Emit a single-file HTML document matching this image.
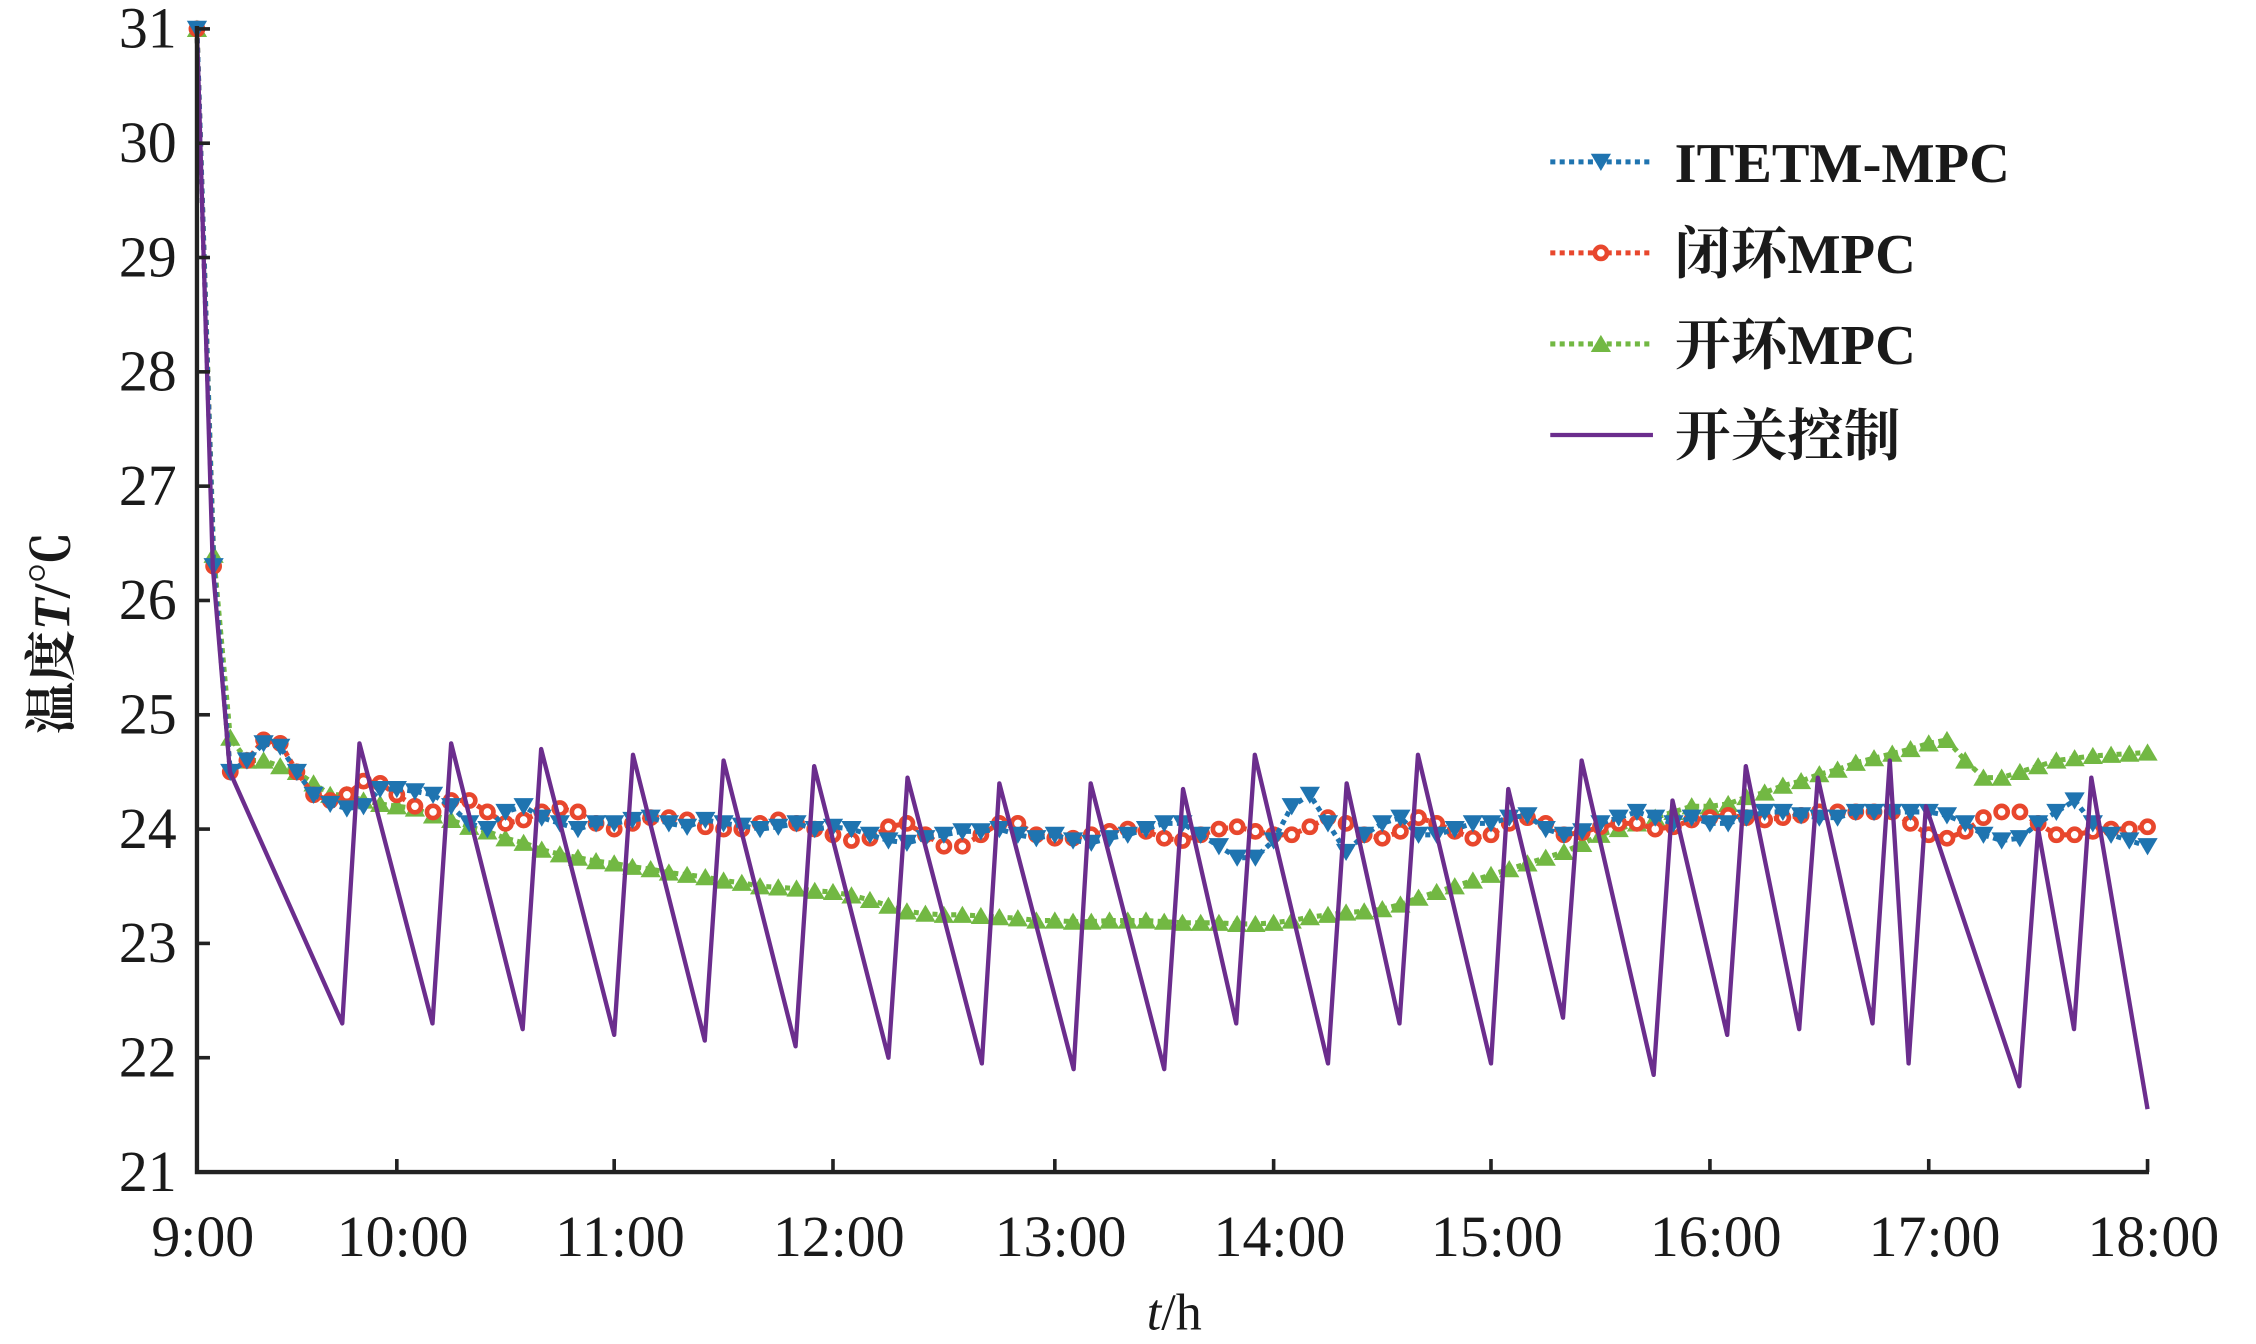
<!DOCTYPE html>
<html><head><meta charset="utf-8"><style>
html,body{margin:0;padding:0;background:#fff;}
svg{display:block;}
text{font-family:"Liberation Serif","Noto Serif CJK SC",serif;fill:#1a1a1a;}
</style></head><body>
<svg id="chart" width="2256" height="1344" viewBox="0 0 1560 930" preserveAspectRatio="none" xmlns="http://www.w3.org/2000/svg">
<g id="plot"></g>
<g id="axes"></g>
<text x="812" y="920" font-size="36" text-anchor="middle"><tspan font-style="italic">t</tspan>/h</text>
<text transform="translate(48,438) rotate(-90)" font-size="36" font-weight="bold" text-anchor="middle">温度<tspan font-style="italic">T</tspan>/℃</text>
<g id="legend"></g>
</svg>
<script>
const categories = Array.from({length:109},(_,i)=>9+i/12);
const xTicks = ["9:00","10:00","11:00","12:00","13:00","14:00","15:00","16:00","17:00","18:00"];
const yTicks = [21,22,23,24,25,26,27,28,29,30,31];
const itetm = [31,26.3,24.5,24.6,24.75,24.72,24.5,24.3,24.22,24.18,24.2,24.35,
24.35,24.33,24.3,24.2,24.05,24.0,24.15,24.2,24.1,24.05,24.0,24.05,
24.05,24.08,24.1,24.05,24.02,24.08,24.05,24.03,24.0,24.02,24.05,24.0,
24.02,24.0,23.95,23.9,23.88,23.92,23.95,23.98,23.98,24.0,23.95,23.92,
23.95,23.9,23.88,23.92,23.95,24.0,24.05,24.05,23.95,23.85,23.75,23.75,
23.9,24.2,24.3,24.05,23.8,23.95,24.05,24.1,23.95,23.95,24.0,24.05,
24.05,24.1,24.12,24.0,23.95,23.98,24.05,24.1,24.15,24.1,24.05,24.1,
24.05,24.05,24.1,24.15,24.15,24.12,24.1,24.1,24.15,24.15,24.15,24.15,
24.15,24.12,24.05,23.95,23.9,23.92,24.05,24.15,24.25,24.05,23.95,23.9,23.85];
const closedLoop = [31,26.3,24.5,24.6,24.78,24.75,24.5,24.3,24.25,24.3,24.42,24.4,
24.3,24.2,24.15,24.25,24.25,24.15,24.05,24.08,24.15,24.18,24.15,24.05,
24.0,24.05,24.1,24.1,24.08,24.02,24.0,24.0,24.05,24.08,24.05,24.0,
23.95,23.9,23.92,24.02,24.05,23.95,23.85,23.85,23.95,24.05,24.05,23.95,
23.92,23.92,23.95,23.98,24.0,23.98,23.92,23.9,23.95,24.0,24.02,23.98,
23.95,23.95,24.02,24.1,24.05,23.95,23.92,23.98,24.1,24.05,23.98,23.92,
23.95,24.05,24.1,24.05,23.95,23.97,24.02,24.05,24.05,24.0,24.02,24.08,
24.1,24.12,24.1,24.08,24.1,24.12,24.15,24.15,24.15,24.15,24.15,24.05,
23.95,23.92,23.98,24.1,24.15,24.15,24.05,23.95,23.95,23.98,24.0,24.0,24.02];
const openLoop = [31,26.4,24.8,24.6,24.6,24.55,24.5,24.4,24.3,24.3,24.25,24.22,
24.2,24.18,24.12,24.08,24.02,23.98,23.92,23.88,23.82,23.78,23.75,23.72,
23.7,23.67,23.65,23.62,23.6,23.58,23.55,23.53,23.5,23.49,23.48,23.46,
23.45,23.42,23.38,23.33,23.28,23.26,23.25,23.25,23.24,23.23,23.22,23.2,
23.2,23.19,23.19,23.2,23.2,23.2,23.19,23.18,23.18,23.18,23.17,23.17,
23.18,23.2,23.23,23.25,23.27,23.28,23.3,23.34,23.4,23.45,23.5,23.55,
23.6,23.65,23.7,23.75,23.8,23.87,23.95,24.0,24.05,24.1,24.15,24.2,
24.2,24.22,24.28,24.32,24.38,24.42,24.48,24.52,24.58,24.62,24.66,24.7,
24.75,24.78,24.6,24.45,24.45,24.5,24.55,24.6,24.62,24.64,24.65,24.66,24.67];
const switchTimes = [9,9.079,9.165,9.727,9.813,10.164,10.25,10.579,10.664,11.0,11.086,11.414,11.5,11.829,11.914,12.25,12.336,12.671,12.75,13.086,13.164,13.5,13.586,13.829,13.914,14.25,14.336,14.579,14.664,15.0,15.079,15.329,15.414,15.743,15.829,16.079,16.164,16.408,16.493,16.743,16.822,16.908,16.987,17.414,17.5,17.664,17.743,18];
const switchTemps = [31,26.3,24.5,22.3,24.75,22.3,24.75,22.25,24.7,22.2,24.65,22.15,24.6,22.1,24.55,22.0,24.45,21.95,24.4,21.9,24.4,21.9,24.35,22.3,24.65,21.95,24.4,22.3,24.65,21.95,24.35,22.35,24.6,21.85,24.25,22.2,24.55,22.25,24.45,22.3,24.6,21.95,24.2,21.75,24.0,22.25,24.45,21.55];

const Y0=811,Y1=20;
const axisPx=[136.2,274.4,424.7,576,729.4,880.7,1031,1182.4,1333.7,1485];
function xs(h){let i=Math.min(Math.max(Math.floor(h-9),0),8);return axisPx[i]+(h-9-i)*(axisPx[i+1]-axisPx[i]);}
const ys=v=>Y0-(v-21)/10*(Y0-Y1);
const X0=axisPx[0],X1=axisPx[9];
const NS="http://www.w3.org/2000/svg";
function mk(tag,attrs,parent){const e=document.createElementNS(NS,tag);for(const k in attrs)e.setAttribute(k,attrs[k]);parent.appendChild(e);return e;}
const plot=document.getElementById('plot'),axes=document.getElementById('axes'),legend=document.getElementById('legend');

function tri(x,y,down,col,p){const s=7;const pts=down?`${x-s},${y-s*0.8} ${x+s},${y-s*0.8} ${x},${y+s*0.9}`:`${x-s},${y+s*0.8} ${x+s},${y+s*0.8} ${x},${y-s*0.9}`;return mk('polygon',{points:pts,fill:col},p);}

function series(vals,col,kind,name){
  const g=mk('g',{},plot);
  
  
  const d=vals.map((v,i)=>(i?'L':'M')+xs(categories[i]).toFixed(2)+','+ys(v).toFixed(2)).join(' ');
  const l=mk('path',{d:d,fill:'none',stroke:col,'stroke-width':3.5,'stroke-dasharray':'3.5,3'},g);
  
  
  vals.forEach((v,i)=>{
    const x=xs(categories[i]),y=ys(v);let m;
    if(kind==='circle'){m=mk('circle',{cx:x,cy:y,r:4.2,fill:'#fff',stroke:col,'stroke-width':3.2},g);}
    else m=tri(x,y,kind==='down',col,g);
    
    
  });
}
series(openLoop,'#72b843','up','open-loop-mpc-series');
series(closedLoop,'#e8472d','circle','closed-loop-mpc-series');
series(itetm,'#1f74b0','down','itetm-mpc-series');
const sw=mk('path',{d:switchTimes.map((t,i)=>(i?'L':'M')+xs(t).toFixed(2)+','+ys(switchTemps[i]).toFixed(2)).join(' '),fill:'none',stroke:'#6b2d8d','stroke-width':3,'stroke-linejoin':'round'},plot);



const ax=mk('path',{d:`M${X0},${Y1-2} L${X0},${Y0} L${X1+1},${Y0}`,fill:'none',stroke:'#222','stroke-width':3},axes);


xTicks.forEach((lab,i)=>{
  const x=xs(9+i);
  const t=mk('line',{x1:x,x2:x,y1:Y0,y2:Y0-9,stroke:'#222','stroke-width':2.5},axes);
  
  
  const tx=mk('text',{x:x+4,y:Y0+58,'font-size':40,'text-anchor':'middle'},axes);
  tx.textContent=lab;
  
  
});
yTicks.forEach(v=>{
  const y=ys(v);
  const t=mk('line',{x1:X0,x2:X0+9,y1:y,y2:y,stroke:'#222','stroke-width':2.5},axes);
  
  
  const tx=mk('text',{x:X0-14,y:y+13,'font-size':40,'text-anchor':'end'},axes);
  tx.textContent=v;
  
  
});

const items=[['ITETM-MPC','#1f74b0','down'],['闭环MPC','#e8472d','circle'],['开环MPC','#72b843','up'],['开关控制','#6b2d8d','solid']];
items.forEach((it,i)=>{
  const y=112+i*63;
  const g=mk('g',{},legend);
  
  
  if(it[2]==='solid'){mk('line',{x1:1072,x2:1143,y1:y,y2:y,stroke:it[1],'stroke-width':3},g);}
  else{
    mk('line',{x1:1072,x2:1143,y1:y,y2:y,stroke:it[1],'stroke-width':3.5,'stroke-dasharray':'3.5,3'},g);
    if(it[2]==='circle')mk('circle',{cx:1107,cy:y,r:4.2,fill:'#fff',stroke:it[1],'stroke-width':3.2},g);
    else tri(1107,y,it[2]==='down',it[1],g);
  }
  const tx=mk('text',{x:1158,y:y+14,'font-size':39,'font-weight':'bold'},g);
  tx.textContent=it[0];
});
</script>
</body></html>
